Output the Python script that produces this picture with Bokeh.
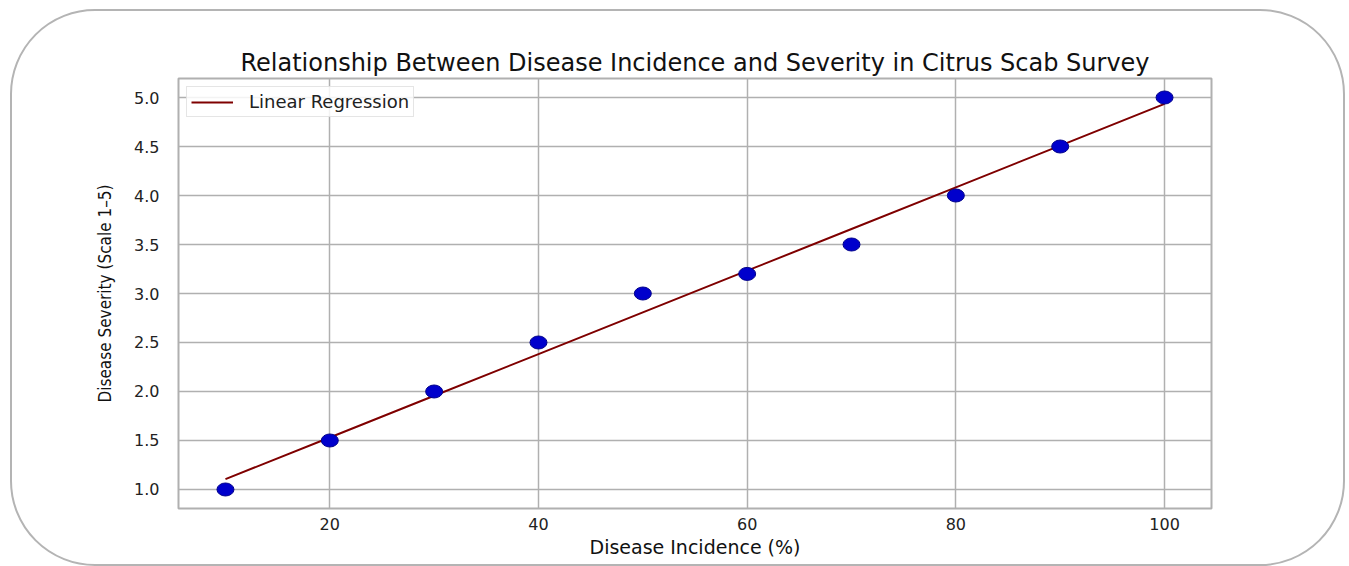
import numpy as np
from bokeh.plotting import figure
from bokeh.models import Range1d, FixedTicker, Legend, LegendItem, ColumnDataSource
from bokeh.embed import file_html
from bokeh.resources import INLINE

incidence = [10, 20, 30, 40, 50, 60, 70, 80, 90, 100]
severity = [1.0, 1.5, 2.0, 2.5, 3.0, 3.2, 3.5, 4.0, 4.5, 5.0]
x_ticks = [20, 40, 60, 80, 100]
y_ticks = [1.0, 1.5, 2.0, 2.5, 3.0, 3.5, 4.0, 4.5, 5.0]

slope, intercept = np.polyfit(incidence, severity, 1)
fit_y = [slope * x + intercept for x in incidence]

FONT = "DejaVu Sans"
GRID = "#b0b0b0"

p = figure(width=1335, height=557, output_backend="svg", toolbar_location=None,
           x_range=Range1d(5.5, 104.5), y_range=Range1d(0.806, 5.194),
           min_border_left=166, min_border_right=136, min_border_top=67, min_border_bottom=60)
p.styles = {"border": "2px solid #b4b4b4", "border-radius": "85px", "box-sizing": "border-box",
            "margin-left": "10px", "margin-top": "9px"}
p.border_fill_color = None
p.background_fill_color = "white"

p.title.text = "Relationship Between Disease Incidence and Severity in Citrus Scab Survey"
p.title.align = "center"
p.title.text_font = FONT
p.title.text_font_size = "24px"
p.title.text_font_style = "normal"
p.title.text_color = "#111111"
p.title.offset = 0
p.title.standoff = 4

p.outline_line_color = GRID
p.outline_line_width = 2

for ax in (p.xaxis, p.yaxis):
    ax.axis_line_color = None
    ax.major_tick_line_color = None
    ax.minor_tick_line_color = None
    ax.major_label_text_font = FONT
    ax.major_label_text_font_size = "16px"
    ax.major_label_text_color = "#222222"
    ax.axis_label_text_font = FONT
    ax.axis_label_text_font_style = "normal"
    ax.axis_label_text_color = "#111111"

p.xaxis.ticker = FixedTicker(ticks=x_ticks)
p.yaxis.ticker = FixedTicker(ticks=y_ticks)
p.yaxis.major_label_overrides = {v: f"{v:.1f}" for v in y_ticks}
p.xaxis.major_label_standoff = 3
p.yaxis.major_label_standoff = 13
p.xaxis.axis_label = "Disease Incidence (%)"
p.xaxis.axis_label_text_font_size = "19px"
p.xaxis.axis_label_standoff = 3
p.yaxis.axis_label = "Disease Severity (Scale 1\u20135)"
p.yaxis.axis_label_text_font = "DejaVu Sans Condensed"
p.yaxis.axis_label_text_font_size = "17px"
p.yaxis.axis_label_standoff = 16

p.xgrid.grid_line_color = GRID
p.ygrid.grid_line_color = GRID
p.xgrid.grid_line_width = 1.5
p.ygrid.grid_line_width = 1.5

src = ColumnDataSource(dict(x=incidence, y=severity, fit=fit_y))
line = p.line("x", "fit", source=src, line_color="#7f0000", line_width=2)
p.ellipse("x", "y", source=src, width=17, height=13, width_units="screen", height_units="screen",
          fill_color="#0000cc", line_color="#00008b", line_width=1)

legend = Legend(items=[LegendItem(label="Linear Regression", renderers=[line])],
                location="top_left")
legend.label_text_font = FONT
legend.label_text_font_size = "18px"
legend.label_text_color = "#222222"
legend.glyph_width = 42
legend.glyph_height = 16
legend.padding = 4
legend.spacing = 0
legend.margin = 8
legend.label_standoff = 16
legend.border_line_color = "#cccccc"
legend.border_line_width = 1.5
legend.background_fill_alpha = 0.85
p.add_layout(legend)

open("out.html", "w").write(file_html(p, INLINE))
